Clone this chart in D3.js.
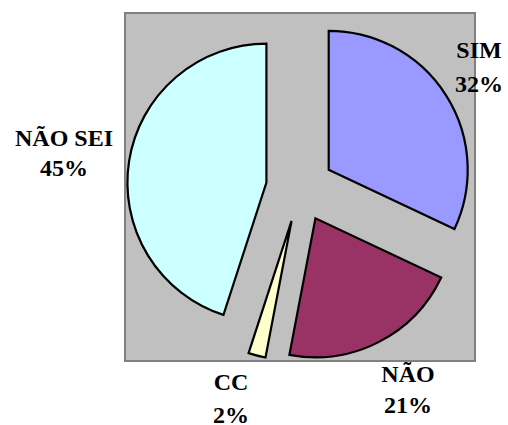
<!DOCTYPE html>
<html>
<head>
<meta charset="utf-8">
<script src="https://cdn.jsdelivr.net/npm/d3@7"></script>
<style>
  html, body { margin: 0; padding: 0; background: #ffffff; }
  svg { display: block; }
</style>
</head>
<body>
<svg id="chart" width="508" height="425"></svg>
<script>
// ---- data ----
const categories = ["SIM", "NÃO", "CC", "NÃO SEI"];
const values = [32, 21, 2, 45];
const percentLabels = ["32%", "21%", "2%", "45%"];
const colors = ["#9999FF", "#993366", "#FFFFCC", "#CCFFFF"];

// ---- layout ----
const plot = { x: 125, y: 13, w: 350, h: 348 };
const center = { x: 300, y: 188 };
const radius = 139;
const explode = 34;
// label anchor (center x, first baseline, second baseline) per category
const labelLayout = {
  "SIM":     { x: 479, y1: 58,  y2: 92 },
  "NÃO":     { x: 408, y1: 382, y2: 413 },
  "CC":      { x: 231, y1: 390, y2: 423 },
  "NÃO SEI": { x: 64,  y1: 146, y2: 176 }
};

const svg = d3.select("#chart");

svg.append("rect")
  .attr("x", plot.x).attr("y", plot.y)
  .attr("width", plot.w).attr("height", plot.h)
  .attr("fill", "#C0C0C0")
  .attr("stroke", "#808080")
  .attr("stroke-width", 2);

const pie = d3.pie().sort(null).value(d => d.value).startAngle(0).endAngle(2 * Math.PI);
const arcs = pie(categories.map((c, i) => ({ cat: c, value: values[i], color: colors[i] })));
const arc = d3.arc().innerRadius(0).outerRadius(radius);

const g = svg.append("g").attr("transform", `translate(${center.x},${center.y})`);

g.selectAll("path")
  .data(arcs)
  .join("path")
  .attr("d", arc)
  .attr("transform", d => {
    const mid = (d.startAngle + d.endAngle) / 2;
    return `translate(${explode * Math.sin(mid)},${-explode * Math.cos(mid)})`;
  })
  .attr("fill", d => d.data.color)
  .attr("stroke", "#000")
  .attr("stroke-width", 2.2)
  .attr("stroke-linejoin", "miter");

const labels = svg.append("g")
  .attr("fill", "#000")
  .attr("text-anchor", "middle");

categories.forEach((c, i) => {
  const L = labelLayout[c];
  const t = labels.append("text")
    .style("font-family", "\"Liberation Serif\"")
    .style("font-weight", "bold")
    .style("font-size", "24px");
  t.append("tspan").attr("x", L.x).attr("y", L.y1).text(c);
  t.append("tspan").attr("x", L.x).attr("y", L.y2).text(percentLabels[i]);
});
</script>
</body>
</html>
